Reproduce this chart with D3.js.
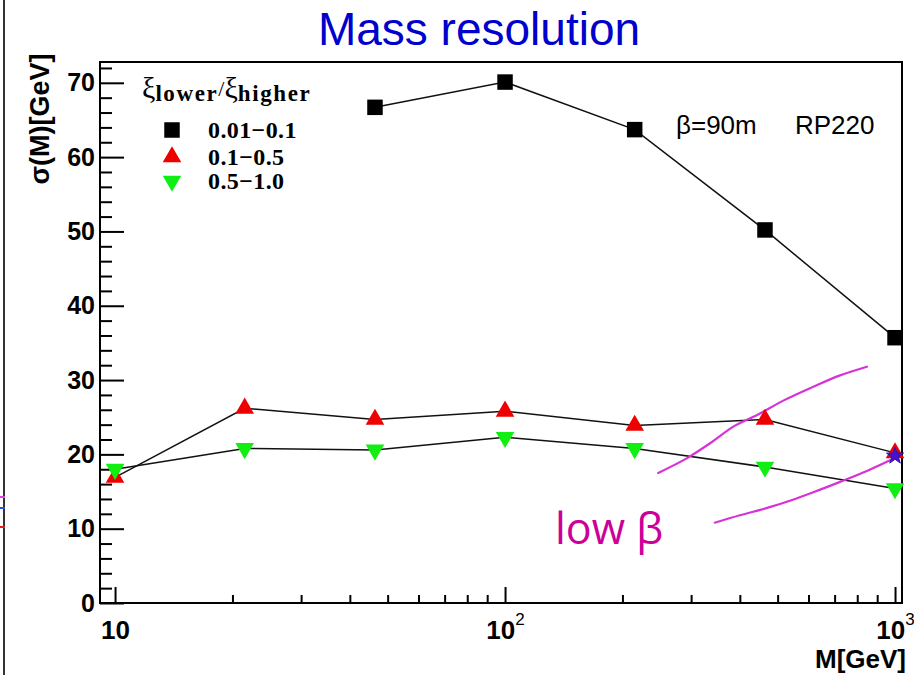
<!DOCTYPE html>
<html>
<head>
<meta charset="utf-8">
<script src="https://cdn.jsdelivr.net/npm/d3@7"></script>
<style>
  html, body { margin: 0; padding: 0; background: #fff; }
  svg { display: block; }
</style>
</head>
<body>
<svg id="chart" width="914" height="675"></svg>
<script>
// ---- data ----
const masses = [10, 21.5, 46.4, 100, 215, 464, 1000];
const seriesNames = ["0.01\u22120.1", "0.1\u22120.5", "0.5\u22121.0"];
const massSquares = [46.4, 100, 215, 464, 1000];
const sigmaSquares = [66.7, 70.1, 63.7, 50.2, 35.7];
const sigmaRed = [16.9, 26.2, 24.7, 25.8, 23.9, 24.7, 20.2];
const sigmaGreen = [18.0, 20.8, 20.6, 22.3, 20.8, 18.3, 15.4];
const starPoint = [1000, 19.8];
const lowBetaCurve1 = [[247, 17.5], [293, 19.5], [340, 21.7], [384, 23.7], [443, 25.3], [520, 27.3], [617, 29.1], [720, 30.6], [847, 31.8]];
const lowBetaCurve2 = [[345, 10.8], [400, 11.8], [470, 12.8], [540, 13.8], [617, 14.9], [723, 16.3], [850, 17.8], [971, 19.2]];
const yMajorTicks = [0, 10, 20, 30, 40, 50, 60, 70];
const xMajorTicks = [10, 100, 1000];
const xTickLabels = [["10", ""], ["10", "2"], ["10", "3"]];

const svg = d3.select("#chart");
const W = 914, H = 675;
const L = 100, R = 902, T = 62, B = 603;

const x = d3.scaleLog().domain([9.15, 1042]).range([L, R]);
const y = d3.scaleLinear().domain([0, 72.8]).range([B, T]);

// left-edge artifact (neighbouring slide frame)
svg.append("line").attr("x1", 4).attr("x2", 4).attr("y1", 0).attr("y2", H)
  .attr("stroke", "#333").attr("stroke-width", 2);
[["#e040e0", 497], ["#3050e0", 508], ["#e02020", 527]].forEach(([c, yy]) => {
  svg.append("line").attr("x1", 0).attr("x2", 5).attr("y1", yy).attr("y2", yy)
    .attr("stroke", c).attr("stroke-width", 2);
});

// Title
svg.append("text").attr("x", 479).attr("y", 45).attr("text-anchor", "middle")
  .attr("font-family", "Liberation Sans, Arial, sans-serif").attr("font-size", 46)
  .attr("fill", "#0000cc").text("Mass resolution");

// frame
svg.append("rect").attr("x", L).attr("y", T).attr("width", R - L).attr("height", B - T)
  .attr("fill", "none").attr("stroke", "#000").attr("stroke-width", 2);

// Y axis
const yMinor = d3.range(0, 73, 2).filter(v => v % 10 !== 0);
svg.append("g").attr("transform", `translate(${L},0)`)
  .call(d3.axisLeft(y).tickValues(yMinor).tickSize(-12).tickFormat(""))
  .call(g => g.select(".domain").remove())
  .selectAll("line").attr("stroke", "#000").attr("stroke-width", 2);
const yAx = svg.append("g").attr("transform", `translate(${L},0)`)
  .call(d3.axisLeft(y).tickValues(yMajorTicks).tickSize(-24).tickPadding(5).tickFormat(d3.format("d")))
  .call(g => g.select(".domain").remove());
yAx.selectAll("line").attr("stroke", "#000").attr("stroke-width", 2);
yAx.selectAll("text").attr("font-family", "Liberation Sans, Arial, sans-serif")
  .attr("font-weight", "bold").attr("font-size", 25).attr("fill", "#000");

// X axis
const xMinor = [];
[10, 100].forEach(d => { for (let k = 2; k <= 9; k++) xMinor.push(d * k); });
svg.append("g").attr("transform", `translate(0,${B})`)
  .call(d3.axisBottom(x).tickValues(xMinor).tickSize(-8).tickFormat(""))
  .call(g => g.select(".domain").remove())
  .selectAll("line").attr("stroke", "#000").attr("stroke-width", 2);
const xAx = svg.append("g").attr("transform", `translate(0,${B})`)
  .call(d3.axisBottom(x).tickValues(xMajorTicks).tickSize(-16).tickPadding(11).tickFormat(""))
  .call(g => g.select(".domain").remove());
xAx.selectAll("line").attr("stroke", "#000").attr("stroke-width", 2);
xAx.selectAll("text").each(function(d, i) {
  const t = d3.select(this);
  t.attr("font-family", "Liberation Sans, Arial, sans-serif").attr("font-weight", "bold")
    .attr("font-size", 26).attr("fill", "#000").attr("dy", "0.95em");
  t.append("tspan").text(xTickLabels[i][0]);
  if (xTickLabels[i][1]) t.append("tspan").attr("font-size", 17).attr("font-weight", "normal").attr("dy", "-0.8em").text(xTickLabels[i][1]);
});

// axis titles
svg.append("text").attr("transform", "translate(49,119) rotate(-90)").attr("text-anchor", "middle")
  .attr("font-family", "Liberation Sans, Arial, sans-serif").attr("font-weight", "bold")
  .attr("font-size", 27).attr("fill", "#000").text("\u03c3(M)[GeV]");
svg.append("text").attr("x", 906).attr("y", 668).attr("text-anchor", "end")
  .attr("font-family", "Liberation Sans, Arial, sans-serif").attr("font-weight", "bold")
  .attr("font-size", 26).attr("fill", "#000").text("M[GeV]");

// lines
const line = d3.line().x(d => x(d[0])).y(d => y(d[1]));
const sq = d3.zip(massSquares, sigmaSquares);
const rd = d3.zip(masses, sigmaRed);
const gr = d3.zip(masses, sigmaGreen);
[sq, rd, gr].forEach(data => {
  svg.append("path").datum(data).attr("d", line).attr("fill", "none")
    .attr("stroke", "#111").attr("stroke-width", 1.5);
});

// magenta hand-drawn curves
const curveLine = d3.line().x(d => x(d[0])).y(d => y(d[1])).curve(d3.curveCatmullRom);
[lowBetaCurve1, lowBetaCurve2].forEach(data => {
  svg.append("path").datum(data).attr("d", curveLine).attr("fill", "none")
    .attr("stroke", "#d633d6").attr("stroke-width", 2.2).attr("stroke-linecap", "round");
});

// markers
const sqSym = d3.symbol().type(d3.symbolSquare).size(240);
const triSym = d3.symbol().type(d3.symbolTriangle).size(150);
svg.append("g").selectAll("path").data(sq).join("path")
  .attr("d", sqSym).attr("transform", d => `translate(${x(d[0])},${y(d[1])})`).attr("fill", "#000");
svg.append("g").selectAll("path").data(rd).join("path")
  .attr("d", triSym).attr("transform", d => `translate(${x(d[0])},${y(d[1])})`).attr("fill", "#ee0000");
svg.append("g").selectAll("path").data(gr).join("path")
  .attr("d", triSym).attr("transform", d => `translate(${x(d[0])},${y(d[1])}) rotate(180)`).attr("fill", "#11ee11");
svg.append("path").attr("d", d3.symbol().type(d3.symbolStar).size(90))
  .attr("transform", `translate(${x(starPoint[0])},${y(starPoint[1])})`)
  .attr("fill", "#4411cc").attr("stroke", "#3311aa").attr("stroke-width", 1);

// legend
const lg = svg.append("g");
const lt = lg.append("text").attr("x", 142).attr("y", 98)
  .attr("font-family", "Liberation Serif, Times New Roman, serif").attr("font-weight", "bold").attr("fill", "#000");
lt.append("tspan").attr("font-size", 30).attr("font-weight", "normal").text("\u03be");
lt.append("tspan").attr("font-size", 23).attr("letter-spacing", 1.6).attr("dy", 3).text("lower");
lt.append("tspan").attr("font-size", 22).attr("dy", -5).attr("font-weight", "normal").text("/");
lt.append("tspan").attr("font-size", 30).attr("font-weight", "normal").attr("dy", 2).text("\u03be");
lt.append("tspan").attr("font-size", 23).attr("letter-spacing", 1.6).attr("dy", 3).text("higher");
const legendRows = [
  { sym: sqSym, fill: "#000", rot: 0 },
  { sym: triSym, fill: "#ee0000", rot: 0 },
  { sym: triSym, fill: "#11ee11", rot: 180 }
];
const rowY = [130, 157, 181];
legendRows.forEach((r, i) => {
  lg.append("path").attr("d", r.sym).attr("fill", r.fill)
    .attr("transform", `translate(172,${rowY[i]}) rotate(${r.rot})`);
  lg.append("text").attr("x", 208).attr("y", rowY[i] + 8)
    .attr("font-family", "Liberation Serif, Times New Roman, serif").attr("font-weight", "bold")
    .attr("font-size", 24).attr("letter-spacing", 0.4).attr("fill", "#000").text(seriesNames[i]);
});

// annotations
svg.append("text").attr("x", 676).attr("y", 134)
  .attr("font-family", "Liberation Sans, Arial, sans-serif").attr("font-size", 26).attr("fill", "#000")
  .text("\u03b2=90m");
svg.append("text").attr("x", 795).attr("y", 134)
  .attr("font-family", "Liberation Sans, Arial, sans-serif").attr("font-size", 26).attr("fill", "#000")
  .text("RP220");
svg.append("text").attr("x", 555).attr("y", 544)
  .attr("font-family", "Open Sans, Noto Sans, sans-serif").attr("font-size", 43).attr("fill", "#cc0099")
  .text("low \u03b2");
</script>
</body>
</html>
